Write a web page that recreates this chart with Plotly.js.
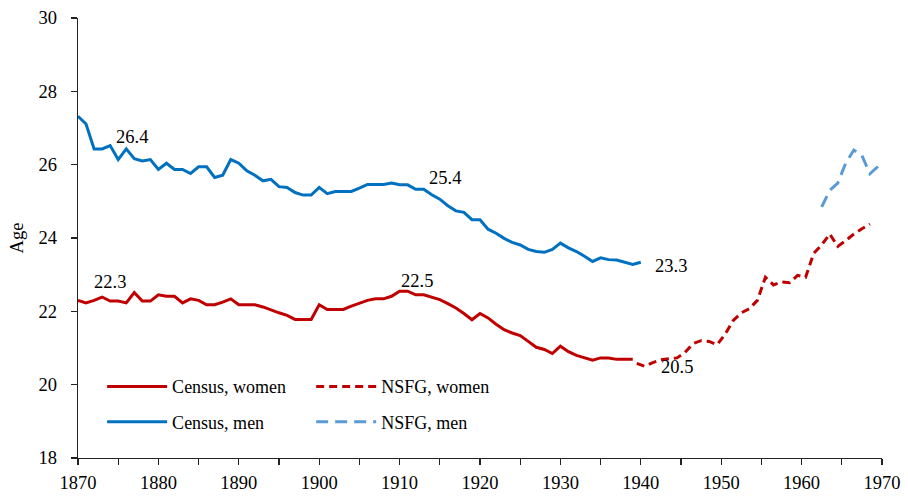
<!DOCTYPE html>
<html>
<head>
<meta charset="utf-8">
<script src="https://cdn.plot.ly/plotly-3.0.1.min.js"></script>
<style>html,body{margin:0;padding:0;background:#fff;}#chart{width:908px;height:498px;}</style>
</head>
<body>
<div id="chart"></div>
<script>
// ---- Data ----
const censusYears = [];
for (let y = 1870; y <= 1940; y++) censusYears.push(y);

const censusMen = [27.32,27.11,26.43,26.43,26.52,26.14,26.43,26.16,26.10,26.14,
  25.87,26.04,25.87,25.87,25.76,25.94,25.94,25.65,25.71,26.14,
  26.04,25.83,25.71,25.56,25.60,25.40,25.38,25.24,25.17,25.17,
  25.38,25.21,25.27,25.27,25.27,25.36,25.46,25.46,25.46,25.50,
  25.45,25.45,25.33,25.33,25.18,25.06,24.88,24.74,24.70,24.50,
  24.50,24.24,24.13,23.99,23.88,23.81,23.69,23.63,23.61,23.69,
  23.86,23.73,23.63,23.50,23.36,23.46,23.41,23.40,23.33,23.28,
  23.34];

const censusWomenYears = censusYears.slice(0, 70); // 1870-1939
const censusWomen = [22.30,22.23,22.30,22.39,22.28,22.28,22.23,22.51,22.28,22.28,
  22.45,22.41,22.41,22.23,22.34,22.30,22.18,22.18,22.25,22.34,
  22.18,22.18,22.18,22.12,22.03,21.96,21.89,21.78,21.78,21.78,
  22.18,22.05,22.05,22.05,22.14,22.23,22.30,22.34,22.34,22.41,
  22.55,22.55,22.45,22.45,22.39,22.32,22.21,22.09,21.94,21.77,
  21.94,21.82,21.65,21.50,21.41,21.34,21.18,21.02,20.96,20.85,
  21.05,20.90,20.80,20.73,20.67,20.73,20.73,20.69,20.69,20.69];

const nsfgWomenYears = [1939.5,1940.5,1941.5,1942.5,1943.5,1944.5,1945.5,1946.5,1947.5,1948.5,
  1949.5,1950.5,1951.5,1952.5,1953.5,1954.5,1955.5,1956.5,1957.5,1958.5,
  1959.5,1960.5,1961.5,1962.5,1963.5,1964.5,1965.5,1966.5,1967.5,1968.5];
const nsfgWomen = [20.58,20.50,20.60,20.68,20.71,20.73,20.88,21.12,21.20,21.18,
  21.09,21.38,21.75,21.96,22.07,22.30,22.93,22.72,22.80,22.78,
  22.98,22.93,23.58,23.81,24.11,23.77,23.93,24.11,24.25,24.38];

const nsfgMenYears = [1962.5,1963.5,1964.5,1965.5,1966.5,1967.5,1968.5,1969.5];
const nsfgMen = [24.85,25.30,25.50,26.05,26.40,26.25,25.75,25.95];

const xTickVals = [1870,1880,1890,1900,1910,1920,1930,1940,1950,1960,1970];
const yTickVals = [18,20,22,24,26,28,30];

// Data label texts
const labelTexts = ['26.4','22.3','25.4','22.5','23.3','20.5','25.9','24.2'];

// ---- Styles ----
const FONT = 'Liberation Serif, Times New Roman, serif';
const RED = '#C00000', BLUE = '#0070C0', LBLUE = '#5B9BD5';

const traces = [
  {x: censusYears, y: censusMen, name: 'Census, men', mode: 'lines',
   line: {color: BLUE, width: 3}, legend: 'legend', legendgroup: 'cm', legendrank: 2},
  {x: censusWomenYears, y: censusWomen, name: 'Census, women', mode: 'lines',
   line: {color: RED, width: 3}, legend: 'legend', legendgroup: 'cw', legendrank: 1},
  {x: nsfgWomenYears, y: nsfgWomen, name: 'NSFG, women', mode: 'lines',
   line: {color: RED, width: 3, dash: '8px,5px'}, legend: 'legend2', legendgroup: 'nw', legendrank: 1},
  {x: nsfgMenYears, y: nsfgMen, name: 'NSFG, men', mode: 'lines',
   line: {color: LBLUE, width: 3, dash: '12px,7px'}, legend: 'legend2', legendgroup: 'nm', legendrank: 2}
];

const labelPos = [[1876.7,26.76],[1874.0,22.81],[1915.6,25.64],[1912.2,22.83],
                  [1943.8,23.24],[1944.5,20.49],[1970.2,26.51],[1970.4,23.68]];
const annotations = labelTexts.map((t, i) => ({
  text: t, x: labelPos[i][0], y: labelPos[i][1], xref: 'x', yref: 'y',
  showarrow: false, xanchor: 'center', yanchor: 'middle',
  font: {family: FONT, size: 18.5, color: '#000'}
}));

const legendBase = {
  orientation: 'v', xanchor: 'left', yanchor: 'top', bgcolor: 'rgba(0,0,0,0)',
  font: {family: FONT, size: 18, color: '#000'}, tracegroupgap: 9, itemwidth: 60,
  traceorder: 'grouped'
};

const layout = {
  width: 908, height: 498,
  margin: {l: 78, r: 26, t: 18, b: 40},
  paper_bgcolor: '#fff', plot_bgcolor: '#fff',
  font: {family: FONT, size: 18.5, color: '#000'},
  showlegend: true,
  legend: Object.assign({}, legendBase, {x: 0.03, y: 0.204}),
  legend2: Object.assign({}, legendBase, {x: 0.29, y: 0.204}),
  xaxis: {
    range: [1870, 1970], tickvals: xTickVals, ticktext: xTickVals.map(String),
    showgrid: false, zeroline: false, showline: true, linecolor: '#222', linewidth: 1.3,
    ticks: 'outside', ticklen: 6, tickcolor: '#222', tickwidth: 1.3,
    minor: {dtick: 5, tick0: 1870, ticks: 'outside', ticklen: 6, tickcolor: '#222', tickwidth: 1.3, showgrid: false},
    ticklabelstandoff: 1,
    tickfont: {family: FONT, size: 18.5, color: '#000'}
  },
  yaxis: {
    range: [18, 30], tickvals: yTickVals, ticktext: yTickVals.map(String),
    showgrid: false, zeroline: false, showline: true, linecolor: '#222', linewidth: 1.3,
    ticks: 'outside', ticklen: 6, tickcolor: '#222', tickwidth: 1.3,
    ticklabelstandoff: 10,
    tickfont: {family: FONT, size: 18.5, color: '#000'},
    title: {text: 'Age', font: {family: FONT, size: 18.5, color: '#000'}, standoff: 10}
  },
  annotations: annotations
};

Plotly.newPlot('chart', traces, layout, {displayModeBar: false, staticPlot: true});
</script>
</body>
</html>
